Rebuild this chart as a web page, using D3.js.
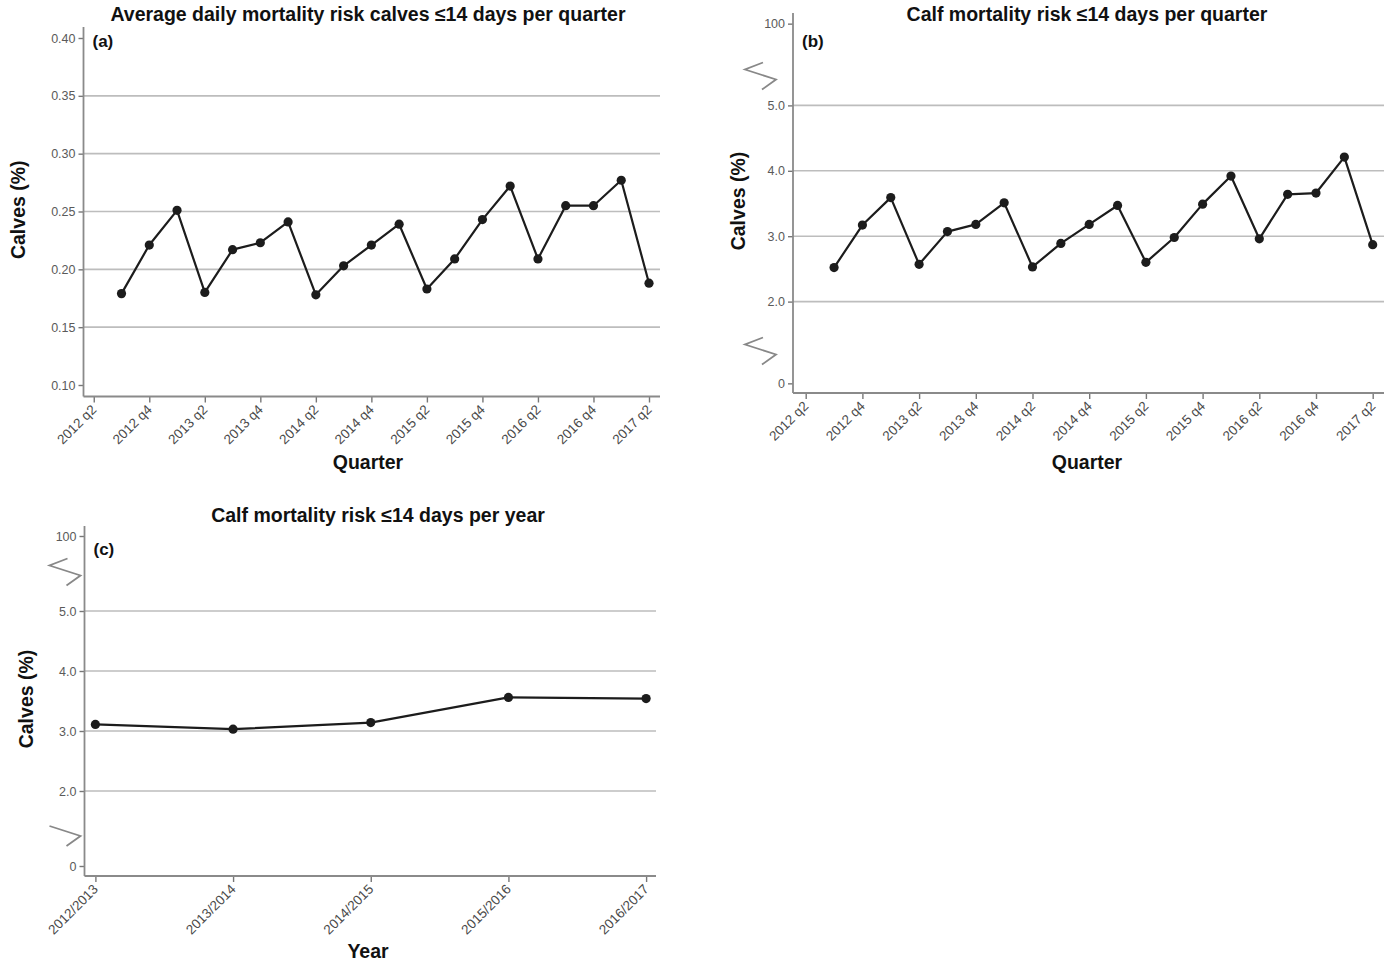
<!DOCTYPE html>
<html>
<head>
<meta charset="utf-8">
<script src="https://cdn.jsdelivr.net/npm/d3@7"></script>
<style>
  body { margin: 0; background: #fff; }
  svg text { font-family: "Liberation Sans", Arial, Helvetica, sans-serif; }
</style>
</head>
<body>
<svg id="chart" width="1391" height="966"></svg>
<script>
// ---- data ----
const quarters = [
  "2012 q2", "2012 q3", "2012 q4", "2013 q1", "2013 q2", "2013 q3", "2013 q4",
  "2014 q1", "2014 q2", "2014 q3", "2014 q4", "2015 q1", "2015 q2", "2015 q3",
  "2015 q4", "2016 q1", "2016 q2", "2016 q3", "2016 q4", "2017 q1", "2017 q2"
];
// observed quarters (2012 q3 .. 2017 q2)
const observedQuarters = quarters.slice(1);
const quarterTicks = [
  "2012 q2", "2012 q4", "2013 q2", "2013 q4", "2014 q2", "2014 q4",
  "2015 q2", "2015 q4", "2016 q2", "2016 q4", "2017 q2"
];
// (a) average daily mortality risk, calves <=14 days, per quarter (%)
const dailyRisk = [
  0.179, 0.221, 0.251, 0.180, 0.217, 0.223, 0.241, 0.178, 0.203, 0.221,
  0.239, 0.183, 0.209, 0.243, 0.272, 0.209, 0.255, 0.255, 0.277, 0.188
];
// (b) calf mortality risk <=14 days per quarter (%)
const quarterRisk = [
  2.52, 3.17, 3.59, 2.57, 3.07, 3.18, 3.51, 2.53, 2.89, 3.18,
  3.47, 2.60, 2.98, 3.49, 3.92, 2.96, 3.64, 3.66, 4.21, 2.87
];
// (c) calf mortality risk <=14 days per year (%)
const years = ["2012/2013", "2013/2014", "2014/2015", "2015/2016", "2016/2017"];
const yearRisk = [3.11, 3.03, 3.14, 3.56, 3.54];

const dailyTicks = [0.10, 0.15, 0.20, 0.25, 0.30, 0.35, 0.40];
const dailyGrid = [0.15, 0.20, 0.25, 0.30, 0.35];
const riskTicks = [0, 2, 3, 4, 5, 100];
const riskGrid = [2, 3, 4, 5];

// ---- drawing ----
const svg = d3.select("#chart");
const FONT_BOLD = 19.5;

// Broken axis: 0..2 and 5..100 are each squeezed into 1.25 units of the linear section
function brokenScale(pxPerUnit, y2) {
  const v = val => y2 - (val - 2) * pxPerUnit;
  return d3.scaleLinear().domain([0, 2, 5, 100]).range([v(0.75), v(2), v(5), v(6.25)]);
}

function drawPanel(p) {
  const g = svg.append("g");

  // horizontal gridlines
  g.selectAll("line.grid").data(p.grid).join("line")
    .attr("class", "grid")
    .attr("x1", p.left).attr("x2", p.right)
    .attr("y1", d => p.y(d)).attr("y2", d => p.y(d))
    .attr("stroke", "#bdbdbd").attr("stroke-width", 1.6);

  // y axis
  const ya = g.append("g")
    .attr("transform", `translate(${p.left},0)`)
    .call(d3.axisLeft(p.y).tickValues(p.yTicks).tickFormat(p.yFormat).tickSize(5).tickPadding(3));
  ya.select(".domain").remove();
  ya.selectAll(".tick line").attr("stroke", "#777").attr("stroke-width", 1.4);
  ya.selectAll(".tick text").attr("fill", "#5a5a5a").style("font-size", "12.5px");

  // x axis
  const xa = g.append("g")
    .attr("transform", `translate(0,${p.bottom})`)
    .call(d3.axisBottom(p.x).tickValues(p.xTicks).tickSize(6));
  xa.select(".domain").remove();
  xa.selectAll(".tick line").attr("stroke", "#777").attr("stroke-width", 1.4);
  xa.selectAll(".tick text")
    .attr("fill", "#4a4a4a").style("font-size", "13.5px")
    .attr("text-anchor", "end")
    .attr("y", 0).attr("dy", 0)
    .attr("transform", "translate(3,14) rotate(-45)");

  // axis lines
  g.append("line")
    .attr("x1", p.left).attr("x2", p.left).attr("y1", p.top).attr("y2", p.bottom)
    .attr("stroke", "#8a8a8a").attr("stroke-width", 1.8);
  g.append("line")
    .attr("x1", p.left).attr("x2", p.right).attr("y1", p.bottom).attr("y2", p.bottom)
    .attr("stroke", "#8a8a8a").attr("stroke-width", 1.8);

  // axis break marks
  (p.breaks || []).forEach(b => {
    const pts = b.half
      ? [[-48, -7], [-17, 3], [-31, 13]]
      : [[-30, -14], [-48, -7], [-17, 3], [-31, 13]];
    g.append("path")
      .attr("d", d3.line()(pts.map(([dx, dy]) => [p.left + b.dx + dx, b.cy + dy])))
      .attr("fill", "none").attr("stroke", "#888").attr("stroke-width", 1.8);
  });

  // series
  const pts = p.cats.map((c, i) => [p.x(c), p.y(p.values[i])]);
  g.append("path")
    .attr("d", d3.line()(pts))
    .attr("fill", "none").attr("stroke", "#1c1c1c").attr("stroke-width", 2.2)
    .attr("stroke-linejoin", "round");
  g.selectAll("circle.pt").data(pts).join("circle")
    .attr("class", "pt")
    .attr("cx", d => d[0]).attr("cy", d => d[1]).attr("r", 4.6)
    .attr("fill", "#1c1c1c");

  // texts
  g.append("text")
    .attr("x", p.titleX).attr("y", p.titleY)
    .attr("text-anchor", "middle").attr("font-weight", "bold")
    .style("font-size", FONT_BOLD + "px").attr("fill", "#111")
    .text(p.title);
  g.append("text")
    .attr("x", p.left + 9).attr("y", p.tagY)
    .attr("font-weight", "bold").style("font-size", "17px").attr("fill", "#111")
    .text(p.tag);
  g.append("text")
    .attr("x", p.xTitleX).attr("y", p.xTitleY)
    .attr("text-anchor", "middle").attr("font-weight", "bold")
    .style("font-size", FONT_BOLD + "px").attr("fill", "#111")
    .text(p.xTitle);
  g.append("text")
    .attr("transform", `translate(${p.yTitleX},${(p.top + p.bottom) / 2 - 2}) rotate(-90)`)
    .attr("text-anchor", "middle").attr("font-weight", "bold")
    .style("font-size", FONT_BOLD + "px").attr("fill", "#111")
    .text("Calves (%)");
}

const riskFormat = d => d >= 100 || d === 0 ? String(d) : d3.format(".1f")(d);

// (a)
drawPanel({
  left: 83.5, right: 660, top: 27, bottom: 396.5,
  x: d3.scalePoint().domain(quarters).range([93.75, 649]),
  y: d3.scaleLinear().domain([0.10, 0.40]).range([385, 38]),
  yTicks: dailyTicks, yFormat: d3.format(".2f"), grid: dailyGrid,
  xTicks: quarterTicks, cats: observedQuarters, values: dailyRisk,
  title: "Average daily mortality risk calves \u226414 days per quarter", titleX: 368, titleY: 21,
  tag: "(a)", tagY: 47, xTitle: "Quarter", xTitleX: 368, xTitleY: 469, yTitleX: 25
});

// (b)
drawPanel({
  left: 793, right: 1384, top: 13, bottom: 393,
  x: d3.scalePoint().domain(quarters).range([805.7, 1372.7]),
  y: brokenScale(65.4, 301.6),
  yTicks: riskTicks, yFormat: riskFormat, grid: riskGrid,
  xTicks: quarterTicks, cats: observedQuarters, values: quarterRisk,
  title: "Calf mortality risk \u226414 days per quarter", titleX: 1087, titleY: 21,
  tag: "(b)", tagY: 47, xTitle: "Quarter", xTitleX: 1087, xTitleY: 469, yTitleX: 745,
  breaks: [{ dx: 0, cy: 76.5 }, { dx: 0, cy: 351.5 }]
});

// (c)
drawPanel({
  left: 84.5, right: 656, top: 526, bottom: 876,
  x: d3.scalePoint().domain(years).range([95.4, 646.1]),
  y: brokenScale(60, 791),
  yTicks: riskTicks, yFormat: riskFormat, grid: riskGrid,
  xTicks: years, cats: years, values: yearRisk,
  title: "Calf mortality risk \u226414 days per year", titleX: 378, titleY: 522,
  tag: "(c)", tagY: 555, xTitle: "Year", xTitleX: 368, xTitleY: 958, yTitleX: 33,
  breaks: [{ dx: 13, cy: 572.5 }, { dx: 13, cy: 833, half: true }]
});
</script>
</body>
</html>
